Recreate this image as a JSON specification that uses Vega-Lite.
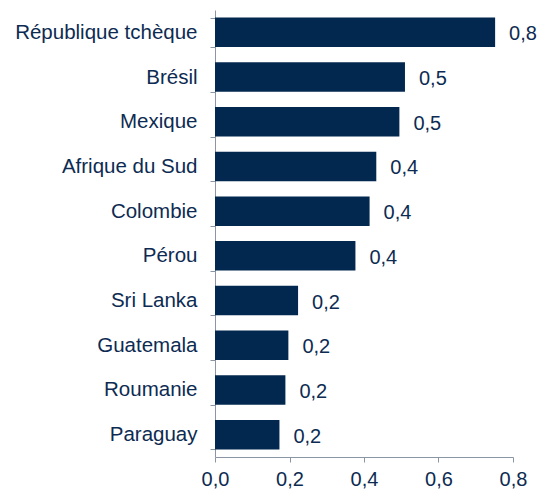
{
  "$schema": "https://vega.github.io/schema/vega-lite/v6.json",
  "width": 298,
  "height": 447,
  "autosize": "none",
  "padding": {"left": 215, "top": 10, "right": 25, "bottom": 35},
  "background": "white",
  "config": {
    "view": {"stroke": null},
    "font": "Liberation Sans",
    "locale": {"number": {"decimal": ",", "thousands": " ", "grouping": [3], "currency": ["", " €"]}}
  },
  "data": {
    "values": [
      {"pays": "République tchèque", "valeur": 0.752},
      {"pays": "Brésil", "valeur": 0.51},
      {"pays": "Mexique", "valeur": 0.495},
      {"pays": "Afrique du Sud", "valeur": 0.433},
      {"pays": "Colombie", "valeur": 0.415},
      {"pays": "Pérou", "valeur": 0.377},
      {"pays": "Sri Lanka", "valeur": 0.223},
      {"pays": "Guatemala", "valeur": 0.197},
      {"pays": "Roumanie", "valeur": 0.189},
      {"pays": "Paraguay", "valeur": 0.173}
    ]
  },
  "encoding": {
    "y": {
      "field": "pays", "type": "nominal", "sort": null,
      "scale": {"paddingInner": 0.34, "paddingOuter": 0.17},
      "axis": {
        "title": null, "labelFontSize": 20.5, "labelColor": "#0d2b52", "labelPadding": 13,
        "labelLimit": 300,
        "tickSize": 5, "tickColor": "#8a96a3", "domainColor": "#8a96a3", "tickBand": "extent",
        "grid": false
      }
    },
    "x": {
      "field": "valeur", "type": "quantitative",
      "scale": {"domain": [0, 0.8], "nice": false},
      "axis": {
        "title": null, "values": [0, 0.2, 0.4, 0.6, 0.8], "format": ".1f",
        "labelFontSize": 20, "labelColor": "#0d2b52", "labelPadding": 7,
        "tickSize": 5, "tickColor": "#8a96a3", "domainColor": "#8a96a3",
        "grid": false, "labelFlush": false
      }
    }
  },
  "layer": [
    {"mark": {"type": "bar", "color": "#03284f"}},
    {
      "mark": {"type": "text", "align": "left", "dx": 14, "dy": 2, "fontSize": 20, "color": "#0d2b52"},
      "encoding": {"text": {"field": "valeur", "type": "quantitative", "format": ".1f"}}
    }
  ]
}
